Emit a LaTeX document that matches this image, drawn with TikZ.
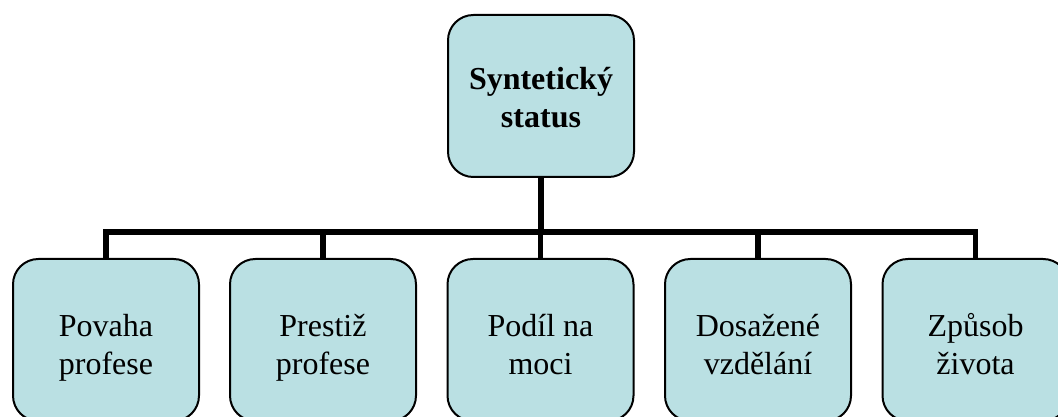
\documentclass[tikz,border=0pt]{standalone}
\usepackage{fontspec}
\setmainfont{Liberation Serif}
\definecolor{boxfill}{RGB}{186,224,227}
\newcommand{\twolines}[3][35.5pt]{\rule[-6pt]{0pt}{#1}#2\\#3\rule[-6pt]{0pt}{6pt}}
\begin{document}
\begin{tikzpicture}[x=0.75pt,y=-0.75pt,
  box/.style={draw=black, line width=1.5pt, fill=boxfill, rounded corners=19pt,
    minimum width=139.5pt, minimum height=121.5pt, inner sep=0pt, align=center,
    font=\fontsize{24}{28.5}\selectfont},
  conn/.style={draw=black, line width=4.2pt}]
\clip (0,0) rectangle (1058,417);
\fill[white] (0,0) rectangle (1058,417);
\node[box, font=\fontsize{24}{28.5}\selectfont\bfseries] (top) at (541,96) {\twolines[31pt]{Syntetický}{status}};
\node[box] (c1) at (106,340) {\twolines{Povaha}{profese}};
\node[box] (c2) at (323,340) {\twolines{Prestiž}{profese}};
\node[box] (c3) at (540.5,340) {\twolines{Podíl na}{moci}};
\node[box] (c4) at (758,340) {\twolines{Dosažené}{vzdělání}};
\node[box] (c5) at (975.5,340) {\twolines{Způsob}{života}};
\coordinate (bar) at (541,232);
\draw[conn] (top.south) -- (bar);
\foreach \c in {c1,c2,c3,c4,c5}{
  \draw[conn] (bar) -| (\c.north);
}
\end{tikzpicture}
\end{document}
